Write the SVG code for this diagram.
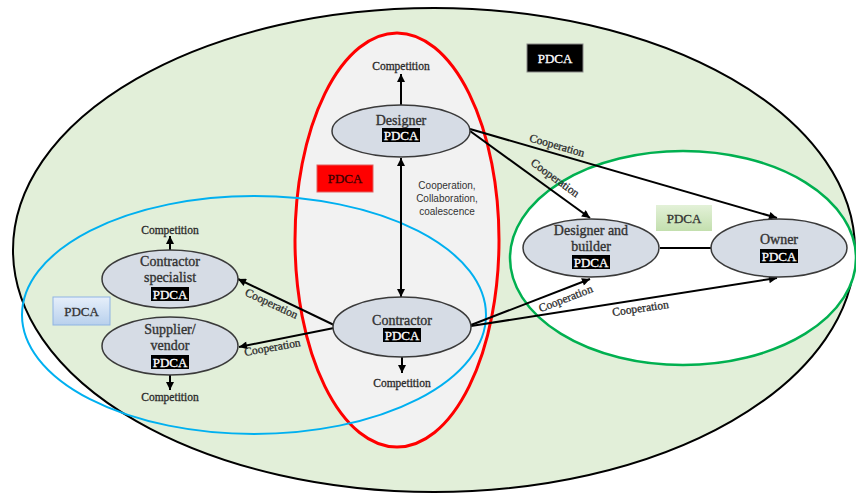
<svg xmlns="http://www.w3.org/2000/svg" width="856" height="493" viewBox="0 0 856 493">
<defs>
<style>
.node{fill:#d6dce5;stroke:#3a3a3a;stroke-width:1.5}
.nt{font-family:'Liberation Serif','Times New Roman',serif;font-size:14px;fill:#333;stroke:#333;stroke-width:0.35;text-anchor:middle}
.pb{fill:#000}
.pt{font-family:'Liberation Serif','Times New Roman',serif;font-size:13px;fill:#fff;stroke:#fff;stroke-width:0.3;text-anchor:middle}
.lab{font-family:'Liberation Serif','Times New Roman',serif;font-size:11.5px;fill:#2b2b2b;stroke:#2b2b2b;stroke-width:0.3;text-anchor:middle}
.sans{font-family:'Liberation Sans',Arial,sans-serif;font-size:10px;fill:#333;text-anchor:middle}
.c{stroke:#000;stroke-width:2;fill:none}
.big{font-family:'Liberation Serif','Times New Roman',serif;font-size:13px;text-anchor:middle;stroke-width:0.3}
</style>
<marker id="ah" viewBox="0 0 10 10" refX="10" refY="5" markerWidth="4.5" markerHeight="4" orient="auto-start-reverse" markerUnits="strokeWidth">
<path d="M0,0 L10,5 L0,10 z" fill="#000"/>
</marker>
<linearGradient id="gb" x1="0" y1="0" x2="0" y2="1"><stop offset="0" stop-color="#e6effa"/><stop offset="1" stop-color="#b8d0ec"/></linearGradient>
<linearGradient id="gg" x1="0" y1="0" x2="0" y2="1"><stop offset="0" stop-color="#e3f1d8"/><stop offset="1" stop-color="#c3dfae"/></linearGradient>
</defs>
<rect width="856" height="493" fill="#fff"/>
<g id="regions">
<ellipse cx="434" cy="250" rx="421" ry="242" fill="#e2efd9" stroke="#000" stroke-width="2"/>
<ellipse cx="397" cy="240" rx="102" ry="207" fill="#f2f2f2" stroke="#ff0000" stroke-width="3"/>
<ellipse cx="683" cy="258" rx="173" ry="107" fill="#fff" stroke="#00b050" stroke-width="2.5"/>
<ellipse cx="254" cy="315" rx="232" ry="119" fill="none" stroke="#00b0f0" stroke-width="2"/>
</g>
<g id="region-labels">
<rect x="527" y="44" width="56" height="28" fill="#000" stroke="#888" stroke-width="1"/>
<text class="big" x="555" y="63" fill="#fff" stroke="#fff" font-size="12.5">PDCA</text>
<rect x="317" y="165" width="56" height="27" fill="#ff0000" stroke="#e06060" stroke-width="1"/>
<text class="big" x="345" y="183" fill="#3a0000" stroke="#3a0000" font-size="14">PDCA</text>
<rect x="53" y="297" width="57" height="28" fill="url(#gb)" stroke="#8fb4e3" stroke-width="1"/>
<text class="big" x="81.5" y="316" fill="#333" stroke="#333" font-size="14">PDCA</text>
<rect x="656" y="205" width="56" height="26" fill="url(#gg)"/>
<text class="big" x="684" y="223" fill="#333" stroke="#333" font-size="14">PDCA</text>
</g>
<g id="connectors">
<line class="c" x1="401" y1="105" x2="401" y2="74" marker-end="url(#ah)"/>
<line class="c" x1="402" y1="357" x2="402" y2="373" marker-end="url(#ah)"/>
<line class="c" x1="170" y1="250" x2="170" y2="236" marker-end="url(#ah)"/>
<line class="c" x1="170" y1="375" x2="170" y2="390" marker-end="url(#ah)"/>
<line class="c" stroke-width="1.6" x1="401" y1="158" x2="401" y2="297" marker-start="url(#ah)" marker-end="url(#ah)"/>
<line class="c" x1="470" y1="129" x2="777" y2="218" marker-end="url(#ah)"/>
<line class="c" x1="470" y1="131" x2="590" y2="218" marker-end="url(#ah)"/>
<line class="c" x1="660" y1="248" x2="711" y2="248"/>
<line class="c" x1="471" y1="325" x2="590" y2="279" marker-end="url(#ah)"/>
<line class="c" x1="471" y1="326" x2="777" y2="278" marker-end="url(#ah)"/>
<line class="c" x1="334" y1="325" x2="238" y2="279" marker-end="url(#ah)"/>
<line class="c" x1="334" y1="328" x2="239" y2="347" marker-end="url(#ah)"/>
<text class="lab" x="401" y="70">Competition</text>
<text class="lab" x="402" y="387">Competition</text>
<text class="lab" x="170" y="234">Competition</text>
<text class="lab" x="170" y="401">Competition</text>
<text class="sans" x="447" y="189">Cooperation,</text>
<text class="sans" x="447" y="202">Collaboration,</text>
<text class="sans" x="447" y="215">coalescence</text>
<text class="lab" transform="translate(556,149) rotate(16)">Cooperation</text>
<text class="lab" transform="translate(553,181) rotate(36)">Cooperation</text>
<text class="lab" transform="translate(567,302) rotate(-21)">Cooperation</text>
<text class="lab" transform="translate(641,312) rotate(-8)">Cooperation</text>
<text class="lab" transform="translate(270,307) rotate(25)">Cooperation</text>
<text class="lab" transform="translate(273,351) rotate(-10)">Cooperation</text>
</g>
<g id="designer">
<ellipse class="node" cx="401" cy="131" rx="69" ry="26"/>
<text class="nt" x="401" y="125">Designer</text>
<rect class="pb" x="382" y="128" width="38" height="14"/>
<text class="pt" x="401" y="140">PDCA</text>
</g>
<g id="contractor">
<ellipse class="node" cx="402" cy="327" rx="69" ry="30"/>
<text class="nt" x="402" y="325">Contractor</text>
<rect class="pb" x="383" y="328" width="38" height="14"/>
<text class="pt" x="402" y="340">PDCA</text>
</g>
<g id="contractor-specialist">
<ellipse class="node" cx="170" cy="279" rx="68" ry="29"/>
<text class="nt" x="170" y="266">Contractor</text>
<text class="nt" x="170" y="282">specialist</text>
<rect class="pb" x="151" y="287" width="38" height="14"/>
<text class="pt" x="170" y="299">PDCA</text>
</g>
<g id="supplier-vendor">
<ellipse class="node" cx="170" cy="346" rx="68" ry="29"/>
<text class="nt" x="170" y="334">Supplier/</text>
<text class="nt" x="170" y="350">vendor</text>
<rect class="pb" x="151" y="355" width="38" height="14"/>
<text class="pt" x="170" y="367">PDCA</text>
</g>
<g id="designer-builder">
<ellipse class="node" cx="591" cy="248" rx="68" ry="29"/>
<text class="nt" x="591" y="235">Designer and</text>
<text class="nt" x="591" y="251">builder</text>
<rect class="pb" x="572" y="255" width="38" height="14"/>
<text class="pt" x="591" y="267">PDCA</text>
</g>
<g id="owner">
<ellipse class="node" cx="779" cy="248" rx="68" ry="29"/>
<text class="nt" x="779" y="244">Owner</text>
<rect class="pb" x="760" y="249" width="38" height="14"/>
<text class="pt" x="779" y="261">PDCA</text>
</g>
</svg>
